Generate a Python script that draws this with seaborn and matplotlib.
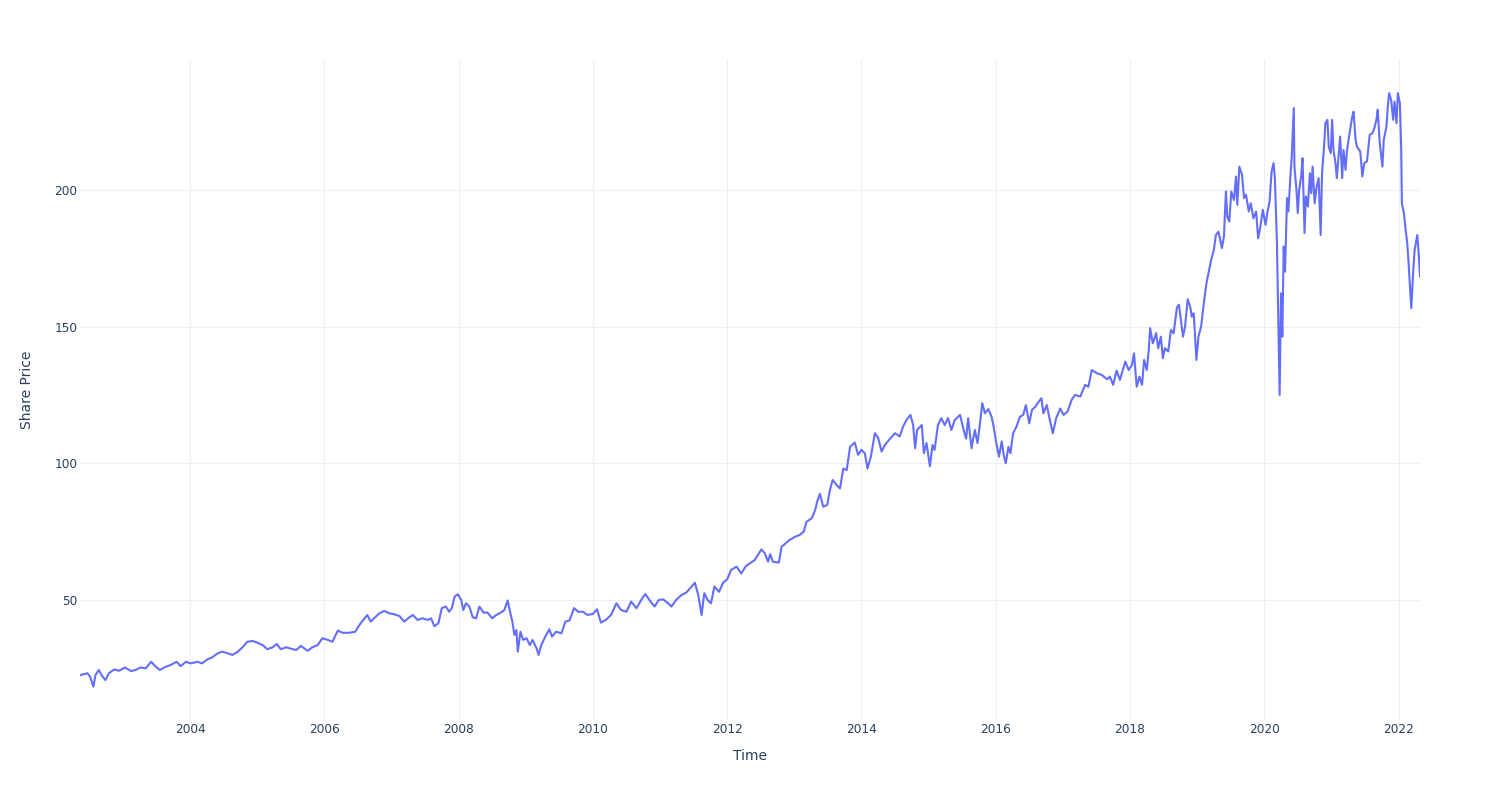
import numpy as np
import pandas as pd
import matplotlib
matplotlib.use("Agg")
import matplotlib.pyplot as plt
import matplotlib.dates as mdates
import seaborn as sns

# Decimal-year positions and share prices
years = [
    2002.36, 2002.47, 2002.51, 2002.56, 2002.59, 2002.64, 2002.69, 2002.74, 2002.79, 2002.87,
    2002.94, 2003.03, 2003.12, 2003.19, 2003.26, 2003.34, 2003.42, 2003.49, 2003.55, 2003.64,
    2003.71, 2003.80, 2003.86, 2003.94, 2004.01, 2004.11, 2004.18, 2004.26, 2004.33, 2004.41,
    2004.48, 2004.56, 2004.63, 2004.71, 2004.78, 2004.85, 2004.93, 2005.00, 2005.08, 2005.15,
    2005.23, 2005.29, 2005.35, 2005.43, 2005.50, 2005.58, 2005.65, 2005.75, 2005.82, 2005.90,
    2005.97, 2006.05, 2006.12, 2006.20, 2006.27, 2006.37, 2006.46, 2006.52, 2006.58, 2006.64,
    2006.69, 2006.74, 2006.82, 2006.89, 2006.97, 2007.04, 2007.12, 2007.19, 2007.27, 2007.32,
    2007.39, 2007.46, 2007.54, 2007.59, 2007.64, 2007.70, 2007.75, 2007.81, 2007.86, 2007.90,
    2007.94, 2007.99, 2008.04, 2008.07, 2008.11, 2008.16, 2008.21, 2008.26, 2008.31, 2008.37,
    2008.43, 2008.50, 2008.56, 2008.63, 2008.68, 2008.73, 2008.76, 2008.80, 2008.83, 2008.86,
    2008.88, 2008.92, 2008.96, 2009.01, 2009.06, 2009.10, 2009.16, 2009.19, 2009.23, 2009.29,
    2009.35, 2009.39, 2009.45, 2009.53, 2009.59, 2009.65, 2009.72, 2009.78, 2009.85, 2009.92,
    2010.00, 2010.06, 2010.12, 2010.20, 2010.27, 2010.35, 2010.42, 2010.50, 2010.57, 2010.65,
    2010.72, 2010.78, 2010.86, 2010.92, 2010.98, 2011.05, 2011.12, 2011.17, 2011.24, 2011.32,
    2011.39, 2011.45, 2011.52, 2011.57, 2011.62, 2011.66, 2011.71, 2011.76, 2011.81, 2011.88,
    2011.94, 2012.00, 2012.06, 2012.14, 2012.21, 2012.28, 2012.34, 2012.41, 2012.46, 2012.51,
    2012.56, 2012.61, 2012.64, 2012.68, 2012.77, 2012.81, 2012.87, 2012.93, 2013.01, 2013.08,
    2013.14, 2013.18, 2013.26, 2013.31, 2013.34, 2013.38, 2013.43, 2013.49, 2013.53, 2013.57,
    2013.63, 2013.68, 2013.73, 2013.78, 2013.83, 2013.90, 2013.95, 2014.00, 2014.05, 2014.09,
    2014.14, 2014.20, 2014.25, 2014.30, 2014.35, 2014.42, 2014.50, 2014.57, 2014.62, 2014.67,
    2014.73, 2014.77, 2014.80, 2014.83, 2014.90, 2014.93, 2014.97, 2015.02, 2015.06, 2015.09,
    2015.14, 2015.19, 2015.24, 2015.29, 2015.34, 2015.39, 2015.47, 2015.52, 2015.56, 2015.59,
    2015.64, 2015.69, 2015.73, 2015.77, 2015.80, 2015.84, 2015.89, 2015.94, 2015.97, 2016.01,
    2016.05, 2016.09, 2016.12, 2016.15, 2016.19, 2016.22, 2016.26, 2016.31, 2016.36, 2016.41,
    2016.45, 2016.50, 2016.54, 2016.59, 2016.64, 2016.68, 2016.71, 2016.76, 2016.80, 2016.85,
    2016.90, 2016.96, 2017.01, 2017.07, 2017.13, 2017.18, 2017.26, 2017.33, 2017.38, 2017.43,
    2017.51, 2017.58, 2017.66, 2017.70, 2017.75, 2017.80, 2017.85, 2017.93, 2017.98, 2018.03,
    2018.06, 2018.10, 2018.14, 2018.18, 2018.21, 2018.25, 2018.28, 2018.30, 2018.34, 2018.39,
    2018.42, 2018.46, 2018.49, 2018.52, 2018.57, 2018.61, 2018.65, 2018.70, 2018.73, 2018.79,
    2018.82, 2018.86, 2018.90, 2018.92, 2018.95, 2018.99, 2019.02, 2019.06, 2019.10, 2019.14,
    2019.17, 2019.21, 2019.25, 2019.28, 2019.32, 2019.37, 2019.40, 2019.43, 2019.45, 2019.48,
    2019.51, 2019.55, 2019.58, 2019.60, 2019.63, 2019.67, 2019.70, 2019.73, 2019.77, 2019.80,
    2019.84, 2019.88, 2019.91, 2019.94, 2019.98, 2020.02, 2020.05, 2020.08, 2020.11, 2020.14,
    2020.16, 2020.19, 2020.20, 2020.23, 2020.25, 2020.27, 2020.29, 2020.31, 2020.34, 2020.36,
    2020.39, 2020.41, 2020.44, 2020.45, 2020.48, 2020.50, 2020.52, 2020.55, 2020.57, 2020.60,
    2020.62, 2020.65, 2020.68, 2020.70, 2020.72, 2020.75, 2020.78, 2020.81, 2020.84, 2020.86,
    2020.89, 2020.91, 2020.94, 2020.96, 2020.99, 2021.01, 2021.03, 2021.06, 2021.08, 2021.11,
    2021.13, 2021.16, 2021.18, 2021.21, 2021.23, 2021.27, 2021.31, 2021.33, 2021.36, 2021.38,
    2021.43, 2021.46, 2021.49, 2021.53, 2021.57, 2021.61, 2021.64, 2021.67, 2021.69, 2021.72,
    2021.76, 2021.78, 2021.82, 2021.84, 2021.86, 2021.89, 2021.92, 2021.94, 2021.97, 2021.99,
    2022.02, 2022.04, 2022.05, 2022.08, 2022.10, 2022.13, 2022.15, 2022.19, 2022.22, 2022.24,
    2022.28, 2022.30, 2022.32,
]

prices = [
    22.5, 23.2, 22.0, 18.3, 22.5, 24.4, 22.2, 20.7, 23.2, 24.6,
    24.1, 25.3, 24.0, 24.4, 25.3, 25.0, 27.4, 25.6, 24.4, 25.6,
    26.2, 27.4, 25.8, 27.4, 26.8, 27.4, 26.8, 28.3, 29.0, 30.5,
    31.1, 30.5, 29.9, 31.1, 32.7, 34.7, 35.0, 34.4, 33.5, 32.0,
    32.7, 33.9, 32.0, 32.7, 32.2, 31.7, 33.2, 31.4, 32.7, 33.5,
    36.0, 35.4, 34.7, 38.8, 38.0, 38.0, 38.4, 40.8, 42.7, 44.5,
    42.1, 43.3, 45.1, 46.0, 45.1, 44.8, 44.1, 42.1, 43.7, 44.5,
    42.7, 43.3, 42.7, 43.3, 40.4, 41.5, 47.0, 47.6, 45.7, 47.0,
    51.2, 52.1, 50.0, 46.3, 48.8, 47.6, 43.7, 43.3, 47.6, 45.4,
    45.4, 43.3, 44.5, 45.4, 46.3, 49.8, 46.3, 42.1, 37.2, 39.0,
    31.1, 38.4, 35.4, 36.0, 33.5, 35.4, 32.3, 29.9, 33.5, 36.6,
    39.3, 36.6, 38.4, 37.8, 42.1, 42.5, 47.0, 45.7, 45.7, 44.5,
    44.9, 46.6, 41.7, 42.9, 44.5, 48.8, 46.3, 45.7, 49.4, 47.0,
    50.0, 52.2, 49.4, 47.6, 50.0, 50.2, 48.8, 47.6, 50.0, 51.8,
    52.7, 54.3, 56.3, 51.8, 44.5, 52.5, 50.0, 48.8, 54.9, 53.0,
    56.3, 57.5, 61.0, 62.2, 59.7, 62.4, 63.4, 64.6, 66.5, 68.5,
    67.1, 64.0, 66.8, 64.0, 63.7, 69.5, 70.7, 72.0, 73.1, 73.8,
    75.0, 78.6, 79.9, 82.9, 86.0, 88.8, 84.1, 84.8, 90.2, 93.9,
    92.0, 90.8, 98.1, 97.5, 106.0, 107.6, 103.1, 104.9, 103.7, 98.1,
    102.4, 111.0, 109.2, 104.3, 106.7, 108.8, 111.0, 109.8, 113.4, 115.8,
    117.7, 114.0, 105.5, 112.2, 114.0, 103.7, 107.4, 98.9, 106.7, 104.9,
    114.0, 116.5, 114.0, 116.5, 112.2, 115.8, 117.7, 112.5, 109.0, 116.5,
    105.5, 112.2, 107.4, 115.2, 122.0, 118.3, 119.8, 117.0, 113.4, 107.4,
    102.4, 108.0, 103.1, 100.0, 106.0, 103.7, 111.0, 113.4, 117.0, 117.7,
    121.3, 114.6, 119.5, 120.7, 122.5, 123.8, 118.3, 121.3, 116.5, 111.0,
    116.5, 120.0, 117.7, 118.9, 123.2, 125.0, 124.4, 128.7, 128.0, 134.1,
    132.9, 132.3, 130.7, 131.7, 128.7, 133.9, 130.5, 137.2, 134.1, 136.0,
    140.2, 128.0, 131.7, 128.7, 137.8, 134.1, 141.5, 149.4, 143.9, 147.6,
    142.1, 146.3, 138.4, 142.1, 140.9, 148.8, 147.5, 157.0, 158.0, 146.3,
    150.0, 160.0, 157.0, 153.6, 154.9, 137.8, 146.3, 150.0, 158.5, 165.9,
    169.5, 174.4, 178.0, 183.5, 184.7, 178.7, 182.9, 199.4, 190.2, 188.4,
    199.4, 196.3, 204.9, 194.5, 208.5, 205.5, 197.0, 198.2, 192.1, 195.1,
    189.6, 192.1, 182.3, 186.0, 192.7, 187.2, 192.1, 195.7, 206.7, 209.8,
    203.7, 180.5, 165.9, 125.0, 162.2, 146.3, 179.3, 170.1, 197.0, 192.1,
    205.0, 212.2, 229.9, 208.5, 200.0, 191.5, 200.0, 204.9, 211.6, 184.2,
    197.6, 193.9, 206.1, 198.8, 208.5, 195.1, 201.2, 204.3, 183.5, 206.1,
    215.8, 224.4, 225.6, 215.8, 213.4, 225.6, 214.6, 209.8, 204.3, 213.4,
    219.5, 204.3, 214.6, 207.3, 214.0, 220.7, 226.8, 228.6, 218.3, 215.8,
    214.0, 204.9, 209.8, 210.4, 220.1, 220.7, 222.6, 225.6, 229.3, 217.1,
    208.5, 218.3, 223.2, 230.5, 235.4, 232.9, 225.6, 232.3, 224.4, 235.4,
    231.7, 214.6, 195.1, 191.5, 186.6, 180.5, 173.2, 156.7, 170.7, 178.0,
    183.5, 176.8, 168.3,
]

y_ticks = [50, 100, 150, 200]


def to_datetime(dec_year):
    yr = int(np.floor(dec_year))
    start = pd.Timestamp(year=yr, month=1, day=1)
    end = pd.Timestamp(year=yr + 1, month=1, day=1)
    return start + (end - start) * (dec_year - yr)


df = pd.DataFrame({"Time": [to_datetime(v) for v in years], "Share Price": prices})

sns.set_theme(style="white")
plt.rcParams["font.family"] = ["DejaVu Sans"]

TEXT = "#2a3f5f"
GRID = "#EBF0F8"
LINE = "#636EFA"

fig = plt.figure(figsize=(15, 8), dpi=100)
ax = fig.add_axes([80 / 1500, 80 / 800, 1340 / 1500, 660 / 800])
ax.set_facecolor("white")

sns.lineplot(data=df, x="Time", y="Share Price", ax=ax, color=LINE, linewidth=1.5)

ax.set_xlim(df["Time"].iloc[0], df["Time"].iloc[-1])
ax.set_ylim(6.1, 247.5)

ax.xaxis.set_major_locator(mdates.YearLocator(2))
ax.xaxis.set_major_formatter(mdates.DateFormatter("%Y"))
ax.set_yticks(y_ticks)
ax.set_yticklabels([str(v) for v in y_ticks])

ax.grid(True, color=GRID, linewidth=0.75)
ax.set_axisbelow(True)
for sp in ax.spines.values():
    sp.set_visible(False)

ax.tick_params(axis="both", length=0, labelsize=8.7, colors=TEXT)
ax.tick_params(axis="x", pad=2)
ax.tick_params(axis="y", pad=2)

ax.set_xlabel("Time", fontsize=10, color=TEXT, va="center")
ax.set_ylabel("Share Price", fontsize=10, color=TEXT, va="center")
ax.xaxis.set_label_coords(0.5, -36 / 660)
ax.yaxis.set_label_coords(-53 / 1340, 0.5)

fig.savefig("out.png", dpi=100, facecolor="white")
